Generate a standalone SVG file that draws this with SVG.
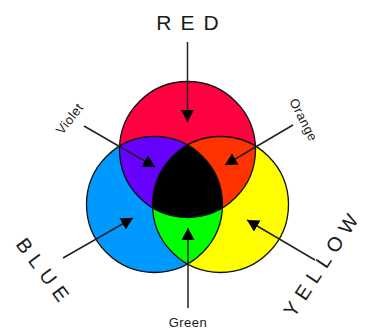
<svg xmlns="http://www.w3.org/2000/svg" width="367" height="331" viewBox="0 0 367 331">
<style>
.lbl{font-family:"Liberation Sans","DejaVu Sans",sans-serif;fill:#1a1a1a;}
.big{font-size:21px;letter-spacing:9px;}
.big2{font-size:20px;letter-spacing:7px;}
.small{font-size:13px;letter-spacing:0.5px;}
.edge{fill:none;stroke:#111;stroke-width:1.3;}
.conn line{stroke:#222;stroke-width:1.5;marker-end:url(#ah);}
</style>
<defs>
<marker id="ah" markerUnits="userSpaceOnUse" markerWidth="14" markerHeight="14" refX="12" refY="6.5" orient="auto" viewBox="0 0 14 14">
<path d="M0,0 L12,6.5 L0,13 z" fill="#000"/>
</marker>
<clipPath id="cRed"><circle cx="187.5" cy="149.5" r="68"/></clipPath>
<clipPath id="cBlue"><circle cx="154.5" cy="204.5" r="68"/></clipPath>
<clipPath id="cYellow"><circle cx="220.5" cy="204.5" r="68"/></clipPath>
</defs>
<rect width="367" height="331" fill="#fff"/>
<g id="red"><circle cx="187.5" cy="149.5" r="68" fill="#ff0040"/></g>
<g id="blue"><circle cx="154.5" cy="204.5" r="68" fill="#0099ff"/></g>
<g id="yellow"><circle cx="220.5" cy="204.5" r="68" fill="#ffff00"/></g>
<g id="violet"><circle cx="187.5" cy="149.5" r="68" fill="#6600ff" clip-path="url(#cBlue)"/></g>
<g id="orange"><circle cx="187.5" cy="149.5" r="68" fill="#ff3300" clip-path="url(#cYellow)"/></g>
<g id="green"><circle cx="154.5" cy="204.5" r="68" fill="#00ff00" clip-path="url(#cYellow)"/></g>
<g id="black" clip-path="url(#cBlue)"><circle cx="187.5" cy="149.5" r="68" fill="#000" clip-path="url(#cYellow)"/></g>
<g id="outlines">
<circle class="edge" cx="187.5" cy="149.5" r="68"/>
<circle class="edge" cx="154.5" cy="204.5" r="68"/>
<circle class="edge" cx="220.5" cy="204.5" r="68"/>
</g>
<g class="conn" id="connectors">
<line x1="187.5" y1="42" x2="187.5" y2="122"/>
<line x1="84" y1="126" x2="155" y2="167"/>
<line x1="293" y1="125" x2="225" y2="165"/>
<line x1="63" y1="258" x2="133" y2="218"/>
<line x1="315" y1="260" x2="247" y2="220"/>
<line x1="188" y1="308" x2="188" y2="228"/>
</g>
<g id="labels">
<text class="lbl big" x="192" y="30" text-anchor="middle">RED</text>
<text class="lbl big2" transform="translate(43,270) rotate(53)" x="3" y="7" text-anchor="middle">BLUE</text>
<text class="lbl big2" transform="translate(321,265) rotate(-56.5)" x="3" y="7" text-anchor="middle">YELLOW</text>
<text class="lbl small" transform="translate(70,119) rotate(-52)" x="0" y="4" text-anchor="middle">Violet</text>
<text class="lbl small" transform="translate(303,120) rotate(63)" x="0" y="4" text-anchor="middle">Orange</text>
<text class="lbl small" x="188" y="327" text-anchor="middle">Green</text>
</g>
</svg>
